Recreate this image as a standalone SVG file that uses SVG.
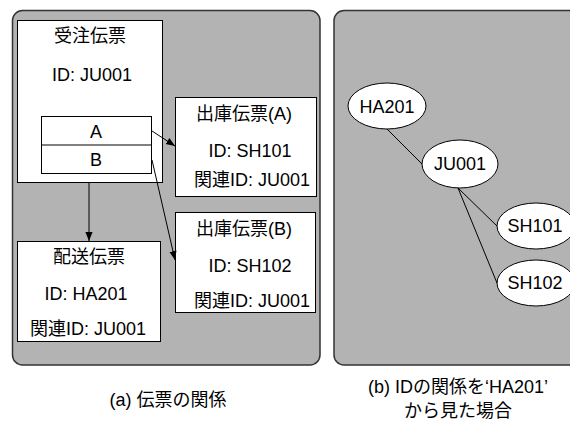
<svg xmlns="http://www.w3.org/2000/svg" width="570" height="421" viewBox="0 0 570 421">
<defs>
<style>
.panel{fill:#b3b3b3;stroke:#333;stroke-width:1.5}
.box{fill:#fff;stroke:#000;stroke-width:1}
.t{font-family:"Liberation Sans","Noto Sans CJK JP",sans-serif;font-size:18px;fill:#000;text-anchor:middle}
.cap{font-family:"Liberation Sans","Noto Sans CJK JP",sans-serif;font-size:18px;fill:#000;text-anchor:middle}
.ln{stroke:#000;stroke-width:1;fill:none}
.arr{stroke:#000;stroke-width:1;fill:none;marker-end:url(#ah)}
</style>
<marker id="ah" viewBox="0 0 10 10" refX="10" refY="5" markerWidth="9" markerHeight="9" markerUnits="userSpaceOnUse" orient="auto">
<path d="M0,1 L10,5 L0,9 Z" fill="#000"/>
</marker>
</defs>
<rect fill="#fff" width="570" height="421"/>
<g id="panel-a"><rect class="panel" x="12.5" y="10.5" width="307.5" height="354.5" rx="10"/></g>
<g id="panel-b"><rect class="panel" x="334" y="10.5" width="260" height="354.5" rx="10"/></g>
<g id="juchu">
<rect class="box" x="17.5" y="20.5" width="145" height="162"/>
<text class="t" x="90" y="42">受注伝票</text>
<text class="t" x="92" y="81">ID: JU001</text>
<rect class="box" x="41.5" y="116.5" width="110" height="57"/>
<line class="ln" x1="41.5" y1="145" x2="151.5" y2="145"/>
<text class="t" x="96" y="138">A</text>
<text class="t" x="96" y="166">B</text>
</g>
<g id="shukko-a">
<rect class="box" x="175.5" y="97.5" width="141" height="99"/>
<text class="t" x="244" y="120">出庫伝票(A)</text>
<text class="t" x="250" y="157">ID: SH101</text>
<text class="t" x="252" y="186">関連ID: JU001</text>
</g>
<g id="shukko-b">
<rect class="box" x="175.5" y="212.5" width="140" height="100"/>
<text class="t" x="244" y="235">出庫伝票(B)</text>
<text class="t" x="250" y="272">ID: SH102</text>
<text class="t" x="252" y="307">関連ID: JU001</text>
</g>
<g id="haiso">
<rect class="box" x="17.5" y="241.5" width="143" height="100"/>
<text class="t" x="89" y="263">配送伝票</text>
<text class="t" x="86" y="300">ID: HA201</text>
<text class="t" x="88" y="335">関連ID: JU001</text>
</g>
<g id="e-ha201"><ellipse cx="387" cy="106" rx="39" ry="23" class="box"/><text class="t" x="387" y="113">HA201</text></g>
<g id="e-ju001"><ellipse cx="460" cy="164" rx="38" ry="24" class="box"/><text class="t" x="460" y="170">JU001</text></g>
<g id="e-sh101"><ellipse cx="536" cy="226" rx="39" ry="23" class="box"/><text class="t" x="535" y="232">SH101</text></g>
<g id="e-sh102"><ellipse cx="536" cy="283" rx="39" ry="23" class="box"/><text class="t" x="535" y="289">SH102</text></g>
<g id="connectors">
<line class="arr" x1="152" y1="131" x2="175" y2="146"/>
<line class="arr" x1="152" y1="160" x2="175" y2="260"/>
<line class="arr" x1="89" y1="183" x2="89" y2="241"/>
<line class="ln" x1="387" y1="129" x2="422" y2="164"/>
<line class="ln" x1="458" y1="188" x2="497" y2="226"/>
<line class="ln" x1="458" y1="188" x2="497" y2="283"/>
</g>
<g id="captions">
<text class="cap" x="168" y="406">(a) 伝票の関係</text>
<text class="cap" x="458" y="393">(b) IDの関係を‘HA201’</text>
<text class="cap" x="458" y="417">から見た場合</text>
</g>
</svg>
